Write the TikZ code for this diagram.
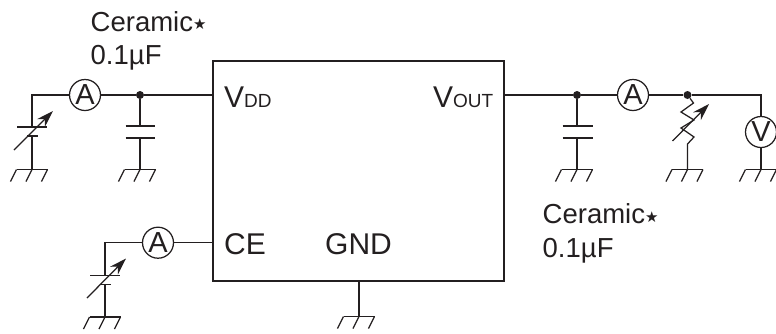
\documentclass[tikz,border=0pt]{standalone}
\usepackage{fontspec}
\setmainfont{Liberation Sans}
\newfontfamily\starfont{DejaVu Sans}
\usetikzlibrary{arrows.meta}
\definecolor{ink}{HTML}{231F20}
\newcommand{\subtxt}{\fontsize{19}{19}\selectfont}
\newcommand{\startxt}{\raisebox{1.5pt}{\starfont\fontsize{15}{15}\selectfont ★}}
\newcommand{\gnd}[1]{\draw[wire,line width=1.5pt] ([xshift=-15.5pt]#1) -- ([xshift=15.5pt]#1);
\foreach \d in {-15.5,0,15.5} {\draw[wire] ([xshift=\d pt]#1) -- ++(-6,12);}}
\begin{document}
\begin{tikzpicture}[x=1pt,y=-1pt,
wire/.style={draw=ink,line width=1.25pt},
meter/.style={circle,draw=ink,line width=1.25pt,fill=white,minimum size=31pt,inner sep=0pt,text=ink,font=\fontsize{29}{29}\selectfont},
dot/.style={circle,fill=ink,inner sep=0pt,minimum size=8pt},
pinlabel/.style={anchor=base west,inner sep=0pt,text=ink,font=\fontsize{30}{30}\selectfont},
notelabel/.style={anchor=base west,inner sep=0pt,text=ink,font=\fontsize{27.5}{27.5}\selectfont},
plate/.style={draw=ink,line width=1.4pt},
tune/.style={draw=ink,line width=1.25pt,-{Stealth[length=17pt,width=11pt]}}]
\useasboundingbox (0,0) rectangle (776,333);

% chip
\node at (358.5,171) [draw=ink,line width=1.6pt,minimum width=291pt,minimum height=220pt,inner sep=0pt] (ic) {};
\coordinate (vddpin) at (213,95);
\coordinate (voutpin) at (504,95);
\coordinate (cepin) at (213,242.7);
\coordinate (gndpin) at (359,281);
\node at (224,107) [pinlabel] (vdd) {V{\subtxt DD}};
\node at (433,107) [pinlabel] (vout) {V{\subtxt OUT}};
\node at (224,254) [pinlabel] (ce) {CE};
\node at (325,254) [pinlabel] (gnd) {GND};

% texts
\node at (90.5,31) [notelabel] (note1) {Ceramic\startxt};
\node at (90.5,64.5) [notelabel] (val1) {0.1µF};
\node at (542.5,223.5) [notelabel] (note2) {Ceramic\startxt};
\node at (542.5,257.5) [notelabel] (val2) {0.1µF};

% meters and junctions
\node at (85,95) [meter] (a1) {A};
\node at (633,95) [meter] (a2) {A};
\node at (158,242.7) [meter] (a3) {A};
\node at (761,132) [meter] (v1) {V};
\node at (140,95) [dot] (j1) {};
\node at (577,95) [dot] (j2) {};
\node at (687.5,95) [dot] (j3) {};

% corners
\coordinate (c1) at (32,95);
\coordinate (c2) at (105,242.7);
\coordinate (c3) at (761,95);

% ground points
\coordinate (g1) at (32,169.5);
\coordinate (g2) at (140,169.5);
\coordinate (g3) at (577,169.5);
\coordinate (g4) at (687.5,169.5);
\coordinate (g5) at (761,169.5);
\coordinate (g6) at (105,317);
\coordinate (g7) at (359,316.5);

% wires
\draw[wire] (a1) -- (c1) -- (32,127);
\draw[wire] (a1) -- (j1) -- (vddpin);
\draw[wire] (voutpin) -- (j2) -- (a2);
\draw[wire] (a2) -- (j3) -- (c3) -- (v1);
\draw[wire] (v1) -- (g5);
\draw[wire] (a3) -- (cepin);
\draw[wire] (a3) -- (c2) -- (105,275.7);
\draw[wire] (gndpin) -- (g7);

% supplies
\draw[plate] (17,127) -- (47,127);
\draw[plate] (27,136) -- (38,136);
\draw[wire] (32,136) -- (g1);
\draw[tune] (14,150) -- (53,111);
\draw[plate] (90,275.7) -- (120,275.7);
\draw[plate] (100,284.5) -- (111,284.5);
\draw[wire] (105,284.5) -- (g6);
\draw[tune] (87,298) -- (126,258.5);

% capacitors
\draw[wire] (j1) -- (140,126);
\draw[plate] (125.5,126) -- (155,126);
\draw[plate] (125.5,138) -- (155,138);
\draw[wire] (140,138) -- (g2);
\draw[wire] (j2) -- (577,126);
\draw[plate] (562.5,126) -- (593,126);
\draw[plate] (562.5,138) -- (593,138);
\draw[wire] (577,138) -- (g3);

% load
\draw[wire] (j3) -- (693.5,103) -- (681,112) -- (694,120) -- (681,128) -- (694,137) -- (687.5,144) -- (g4);
\draw[tune] (672.5,141) -- (709,104);

\gnd{g1}
\gnd{g2}
\gnd{g3}
\gnd{g4}
\gnd{g5}
\gnd{g6}
\gnd{g7}
\end{tikzpicture}
\end{document}
